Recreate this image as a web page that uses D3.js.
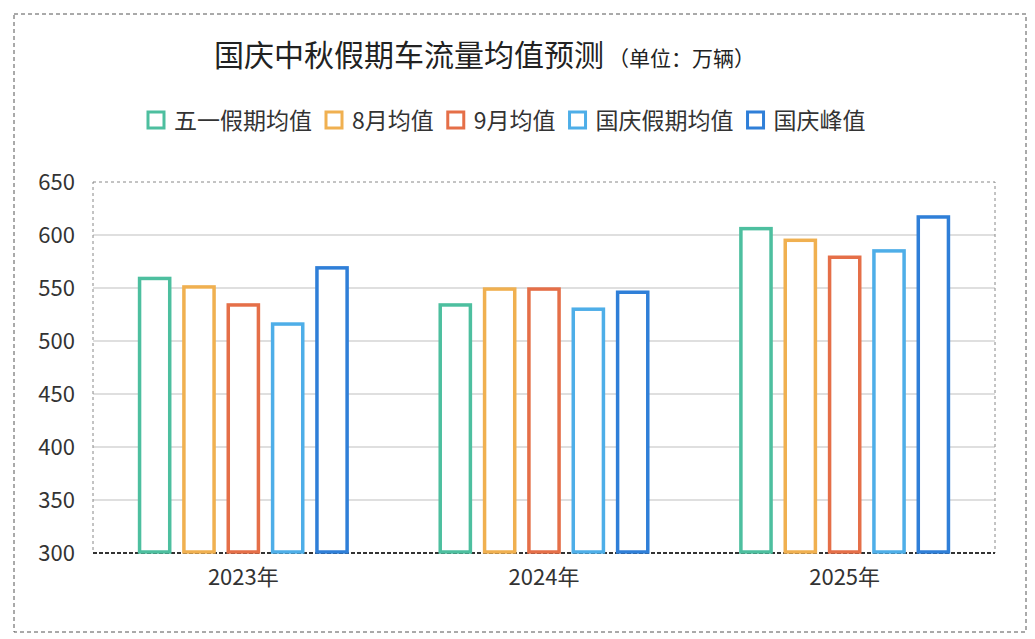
<!DOCTYPE html>
<html><head><meta charset="utf-8">
<script src="https://cdn.jsdelivr.net/npm/d3@7"></script>
<style>body{margin:0;background:#fff;font-family:"Noto Sans CJK SC","Noto Sans",sans-serif}</style>
</head><body><svg id="c" width="1035" height="639"></svg>
<script>
const years=["2023年","2024年","2025年"];
const seriesNames=["五一假期均值","8月均值","9月均值","国庆假期均值","国庆峰值"];
const colors=["#4dbf9f","#f0b050","#e56f48","#4eaee8","#2f7fd8"];
const v2023=[559,551,534,516,569];
const v2024=[534,549,549,530,546];
const v2025=[606,595,579,585,617];
const yTicks=[300,350,400,450,500,550,600,650];
const values=[v2023,v2024,v2025];
const svg=d3.select("#c");
const F='"Noto Sans CJK SC",sans-serif';
svg.append("rect").attr("x",14).attr("y",14).attr("width",1012).attr("height",618).attr("fill","none").attr("stroke","#555").attr("stroke-dasharray","4,3");
svg.append("text").attr("x",214).attr("y",66).attr("font-family",F).attr("font-size",30).attr("fill","#222").text("国庆中秋假期车流量均值预测")
 .append("tspan").attr("font-size",21).attr("dx",4).text("（单位：万辆）");
const m={l:93,r:995,t:182,b:553};
const x=d3.scaleBand().domain(years).range([m.l,m.r]);
const y=d3.scaleLinear().domain([300,650]).range([m.b,m.t]);
const x1=d3.scaleBand().domain(d3.range(5)).range([0,x.bandwidth()]).paddingInner(0.32).paddingOuter(1.05);
svg.append("g").selectAll("line").data(yTicks.slice(1,-1)).join("line").attr("x1",m.l).attr("x2",m.r).attr("y1",d=>y(d)).attr("y2",d=>y(d)).attr("stroke","#d4d4d4").attr("stroke-width",1.5);
svg.append("rect").attr("x",m.l).attr("y",m.t).attr("width",m.r-m.l).attr("height",m.b-m.t).attr("fill","none").attr("stroke","#888").attr("stroke-dasharray","3,3");
svg.append("line").attr("x1",m.l).attr("x2",m.r).attr("y1",m.b).attr("y2",m.b).attr("stroke","#333").attr("stroke-width",2).attr("stroke-dasharray","4,2");
const ya=svg.append("g").attr("transform",`translate(${m.l},0)`).call(d3.axisLeft(y).tickValues(yTicks).tickSize(0).tickPadding(18));
ya.select(".domain").remove();
ya.selectAll("text").attr("font-family",F).attr("font-size",22).attr("fill","#333");
const xa=svg.append("g").attr("transform",`translate(0,${m.b})`).call(d3.axisBottom(x).tickSize(0).tickPadding(16));
xa.select(".domain").remove();
xa.selectAll("text").attr("font-family",F).attr("font-size",22).attr("fill","#333");
years.forEach((yr,i)=>{
 svg.append("g").selectAll("rect").data(values[i]).join("rect")
  .attr("x",(d,j)=>x(yr)+x1(j)).attr("width",x1.bandwidth())
  .attr("y",d=>y(d)).attr("height",d=>y(300)-y(d)-1)
  .attr("fill","#fff").attr("stroke",(d,j)=>colors[j]).attr("stroke-width",3.5);
});
const lg=svg.append("g");
let lx=148;
seriesNames.forEach((n,i)=>{
 lg.append("rect").attr("x",lx).attr("y",112).attr("width",16).attr("height",16).attr("fill","none").attr("stroke",colors[i]).attr("stroke-width",3);
 const t=lg.append("text").attr("x",lx+26).attr("y",129).attr("font-family",F).attr("font-size",23).attr("fill","#333").text(n);
 lx+=26+t.node().getComputedTextLength()+14;
});
</script></body></html>
